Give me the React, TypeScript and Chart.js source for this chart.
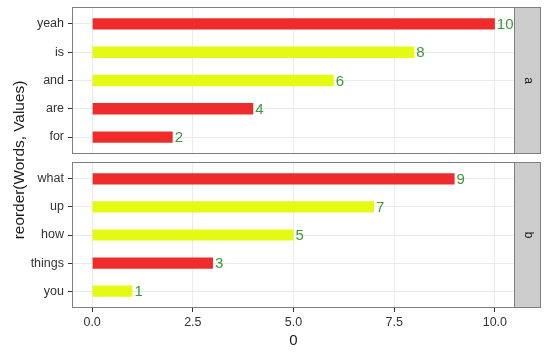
import React, { useEffect, useRef } from "react";
import { Chart, registerables } from "chart.js";
Chart.register(...registerables);

const wordsA = ["yeah", "is", "and", "are", "for"];
const valuesA = [10, 8, 6, 4, 2];
const groupsA = ["r", "y", "y", "r", "r"];
const wordsB = ["what", "up", "how", "things", "you"];
const valuesB = [9, 7, 5, 3, 1];
const groupsB = ["r", "y", "y", "r", "y"];
const panelLabels = ["a", "b"];
const xTicks = [0, 2.5, 5, 7.5, 10];
const xTitle = "0";
const yTitle = "reorder(Words, Values)";

const FILL: Record<string, string> = { r: "#EE2C2C", y: "#E5FA12" };
const FONT = '"Liberation Sans", Arial, sans-serif';
const W = 549;
const H = 357;

function makeChart(
  canvas: HTMLCanvasElement,
  words: string[],
  values: number[],
  groups: string[],
  strip: string,
  showX: boolean,
  padTop: number,
  padBottom: number,
  drawYTitle: boolean
) {
  const panelPlugin = {
    id: "panel" + strip,
    afterDatasetsDraw(chart: any) {
      const ctx = chart.ctx;
      const meta = chart.getDatasetMeta(0);
      ctx.save();
      ctx.font = "15px " + FONT;
      ctx.fillStyle = "#3A9A3A";
      ctx.textAlign = "left";
      ctx.textBaseline = "middle";
      meta.data.forEach((el: any, i: number) => {
        ctx.fillText(String(values[i]), el.x + 2, el.y + 1);
      });
      ctx.restore();
    },
    afterDraw(chart: any) {
      const ctx = chart.ctx;
      const a = chart.chartArea;
      ctx.save();
      const sw = 26;
      ctx.fillStyle = "#CCCCCC";
      ctx.fillRect(a.right, a.top, sw, a.bottom - a.top);
      ctx.strokeStyle = "#7F7F7F";
      ctx.lineWidth = 1;
      ctx.strokeRect(a.right - 0.5, a.top + 0.5, sw, a.bottom - a.top - 1);
      ctx.strokeRect(a.left + 0.5, a.top + 0.5, a.right - a.left - 1, a.bottom - a.top - 1);
      ctx.save();
      ctx.translate(a.right + sw / 2, (a.top + a.bottom) / 2);
      ctx.rotate(Math.PI / 2);
      ctx.fillStyle = "#1A1A1A";
      ctx.font = "12px " + FONT;
      ctx.textAlign = "center";
      ctx.textBaseline = "middle";
      ctx.fillText(strip, 0, 0);
      ctx.restore();
      if (drawYTitle) {
        ctx.translate(20, 160);
        ctx.rotate(-Math.PI / 2);
        ctx.fillStyle = "#1A1A1A";
        ctx.font = "15.4px " + FONT;
        ctx.textAlign = "center";
        ctx.textBaseline = "middle";
        ctx.fillText(yTitle, 0, 0);
      }
      ctx.restore();
    },
  };

  return new Chart(canvas, {
    type: "bar",
    data: {
      datasets: [
        {
          data: values.map((v, i) => ({ x: v, y: i })),
          backgroundColor: groups.map((g) => FILL[g]),
          barPercentage: 0.4,
          categoryPercentage: 1,
        },
      ],
    },
    options: {
      indexAxis: "y",
      animation: false,
      responsive: false,
      maintainAspectRatio: false,
      layout: { padding: { top: padTop, right: 34, bottom: padBottom, left: 0 } },
      plugins: { legend: { display: false }, tooltip: { enabled: false } },
      scales: {
        x: {
          type: "linear",
          min: -0.5,
          max: 10.5,
          offset: false,
          afterBuildTicks: (s: any) => {
            s.ticks = xTicks.map((v) => ({ value: v }));
          },
          afterFit: (s: any) => {
            s.height = showX ? 49 : 0;
          },
          grid: { offset: false, color: "#EBEBEB", tickColor: "#333333", tickLength: 4, drawTicks: showX },
          border: { display: false },
          ticks: {
            display: showX,
            padding: 3,
            color: "#333333",
            font: { family: FONT, size: 12.5 },
            callback: (v: any) => Number(v).toFixed(1),
          },
          title: {
            display: showX,
            text: xTitle,
            color: "#1A1A1A",
            font: { family: FONT, size: 15 },
            padding: { top: 0, bottom: 7 },
          },
        },
        y: {
          type: "linear",
          reverse: true,
          offset: false,
          min: -0.6,
          max: words.length - 0.4,
          afterBuildTicks: (s: any) => {
            s.ticks = words.map((_, i) => ({ value: i }));
          },
          afterFit: (s: any) => {
            s.width = 72;
            s.paddingTop = 0;
            s.paddingBottom = 0;
          },
          grid: { offset: false, color: "#EBEBEB", tickColor: "#333333", tickLength: 4 },
          border: { display: false },
          ticks: {
            padding: 4,
            color: "#333333",
            autoSkip: false,
            font: { family: FONT, size: 12.5 },
            callback: (v: any) => words[Math.round(Number(v))],
          },
        },
      },
    },
    plugins: [panelPlugin],
  } as any);
}

export default function App() {
  const topRef = useRef<HTMLCanvasElement>(null);
  const botRef = useRef<HTMLCanvasElement>(null);

  useEffect(() => {
    document.body.style.margin = "0";
    const c1 = makeChart(topRef.current!, wordsA, valuesA, groupsA, panelLabels[0], false, 7, H - 154, true);
    const c2 = makeChart(botRef.current!, wordsB, valuesB, groupsB, panelLabels[1], true, 162, 0, false);
    return () => {
      c1.destroy();
      c2.destroy();
    };
  }, []);

  const cs: React.CSSProperties = { position: "absolute", left: 0, top: 0, width: W, height: H, display: "block" };
  return (
    <div style={{ position: "relative", width: W, height: H, background: "#FFFFFF", overflow: "hidden" }}>
      <canvas ref={botRef} width={W} height={H} style={cs} />
      <canvas ref={topRef} width={W} height={H} style={cs} />
    </div>
  );
}
